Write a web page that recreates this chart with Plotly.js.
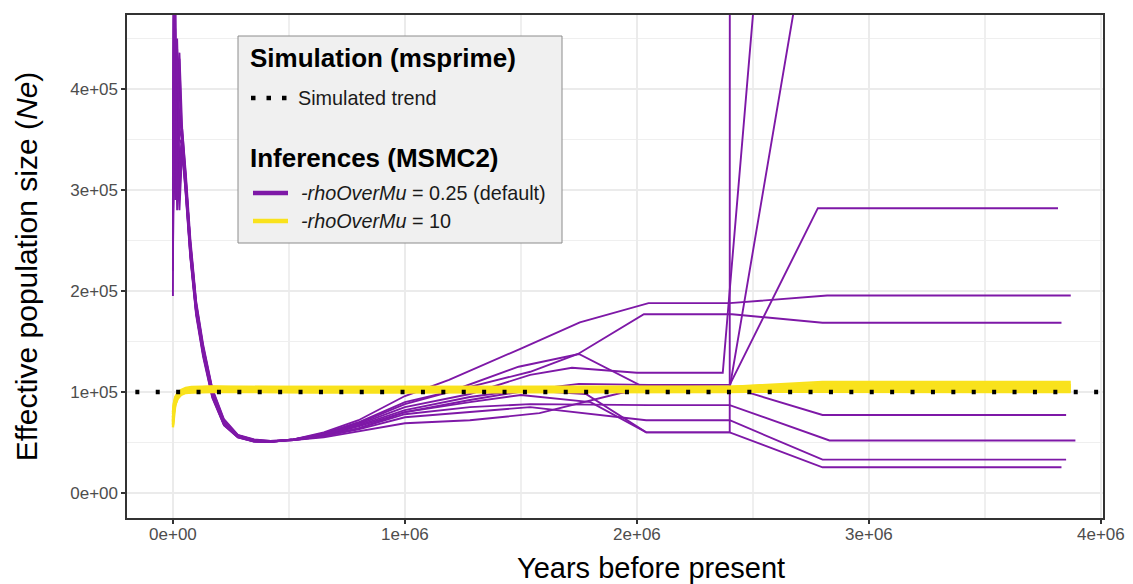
<!DOCTYPE html>
<html>
<head>
<meta charset="utf-8">
<script src="https://cdn.plot.ly/plotly-3.0.1.min.js"></script>
<style>
html,body{margin:0;padding:0;background:#fff;}
#chart{width:1133px;height:584px;}
</style>
</head>
<body>
<div id="chart"></div>
<script>
// ---------------- DATA ----------------
// Axis ticks
const xTickVals = [0, 1e6, 2e6, 3e6, 4e6];
const xTickText = ['0e+00', '1e+06', '2e+06', '3e+06', '4e+06'];
const xMinorVals = [-5e5, 5e5, 1.5e6, 2.5e6, 3.5e6];
const yTickVals = [0, 1e5, 2e5, 3e5, 4e5];
const yTickText = ['0e+00', '1e+05', '2e+05', '3e+05', '4e+05'];
const yMinorVals = [5e4, 1.5e5, 2.5e5, 3.5e5, 4.5e5];

// Titles and legend labels
const xTitle = 'Years before present';
const yTitle = 'Effective population size (<i>Ne</i>)';
const legendSimTitle = 'Simulation (msprime)';
const legendSimLabel = 'Simulated trend';
const legendInfTitle = 'Inferences (MSMC2)';
const legendInfLabels = ['<i>-rhoOverMu</i> = 0.25 (default)', '<i>-rhoOverMu</i> = 10'];

// Simulated trend (msprime): constant Ne
const simTime = [-2.5e5, 4.2e6];
const simNe = [1e5, 1e5];

// MSMC2 inferences, -rhoOverMu = 0.25 (default): 10 replicates
// shared early time grid (years), then replicate-specific later points
const earlyTime = [0, 4e3, 1e4, 1.8e4, 2.8e4, 4e4, 5.5e4, 7.5e4, 1.0e5, 1.3e5, 1.7e5, 2.2e5, 2.8e5, 3.5e5, 4.2e5, 5.2e5, 6.5e5, 8.0e5];

const rho025_rep1_earlyNe = [240e3, 490e3, 300e3, 390e3, 330e3, 350e3, 310e3, 248e3, 188e3, 145e3, 102e3, 72e3, 57e3, 52.5e3, 51e3, 53e3, 57e3, 66e3];
const rho025_rep1_lateTime = [1.0e6, 1.28e6, 1.54e6, 1.75e6, 2.05e6, 2.4e6, 2.78e6, 3.815e6];
const rho025_rep1_lateNe = [80e3, 92e3, 102e3, 108e3, 107e3, 107e3, 282e3, 282e3];

const rho025_rep2_earlyNe = [195e3, 520e3, 410e3, 280e3, 430e3, 340e3, 296e3, 233e3, 176e3, 135e3, 94e3, 67e3, 55e3, 51e3, 50.5e3, 53e3, 60e3, 72e3];
const rho025_rep2_lateTime = [1.0e6, 1.19e6, 1.5e6, 1.754e6, 2.05e6, 2.4e6, 2.82e6, 3.87e6];
const rho025_rep2_lateNe = [96e3, 112e3, 143e3, 169e3, 188e3, 188e3, 195.5e3, 195.5e3];

const rho025_rep3_earlyNe = [270e3, 320e3, 460e3, 340e3, 290e3, 360e3, 314e3, 245e3, 185e3, 143e3, 100e3, 71e3, 57e3, 52e3, 51e3, 53e3, 59e3, 70e3];
const rho025_rep3_lateTime = [1.0e6, 1.28e6, 1.54e6, 1.746e6, 2.03e6, 2.41e6, 2.8e6, 3.83e6];
const rho025_rep3_lateNe = [90e3, 105e3, 120e3, 137.6e3, 177e3, 177e3, 168.6e3, 168.6e3];

const rho025_rep4_earlyNe = [300e3, 550e3, 360e3, 420e3, 310e3, 345e3, 300e3, 236e3, 179e3, 138e3, 96e3, 68e3, 55.5e3, 51e3, 50.5e3, 53e3, 58e3, 69e3];
const rho025_rep4_lateTime = [1.0e6, 1.19e6, 1.49e6, 1.75e6, 2.01e6, 2.4e6, 2.8e6, 3.85e6];
const rho025_rep4_lateNe = [88e3, 100e3, 125e3, 137.6e3, 107e3, 105e3, 77.2e3, 77.2e3];

const rho025_rep5_earlyNe = [220e3, 440e3, 500e3, 300e3, 380e3, 350e3, 307e3, 243e3, 184e3, 142e3, 99e3, 70e3, 56e3, 52e3, 51e3, 52.5e3, 57e3, 64e3];
const rho025_rep5_lateTime = [1.0e6, 1.28e6, 1.54e6, 2.05e6, 2.4e6, 2.83e6, 3.89e6];
const rho025_rep5_lateNe = [78e3, 85e3, 88e3, 87e3, 87e3, 52e3, 52e3];

const rho025_rep6_earlyNe = [260e3, 380e3, 290e3, 400e3, 436e3, 360e3, 318e3, 252e3, 190e3, 147e3, 103e3, 73e3, 57.5e3, 53e3, 51.5e3, 52.5e3, 56e3, 63e3];
const rho025_rep6_lateTime = [1.0e6, 1.28e6, 1.54e6, 2.04e6, 2.4e6, 2.8e6, 3.85e6];
const rho025_rep6_lateNe = [75e3, 80e3, 85e3, 72e3, 72e3, 33e3, 33e3];

const rho025_rep7_earlyNe = [310e3, 470e3, 420e3, 330e3, 280e3, 340e3, 298e3, 235e3, 178e3, 137e3, 95e3, 67e3, 55e3, 51e3, 50.5e3, 53e3, 58e3, 67e3];
const rho025_rep7_lateTime = [1.0e6, 1.28e6, 1.5e6, 1.78e6, 2.04e6, 2.4e6, 2.8e6, 3.83e6];
const rho025_rep7_lateNe = [82e3, 95e3, 102e3, 98e3, 60e3, 60e3, 25.4e3, 25.4e3];

const rho025_rep8_earlyNe = [250e3, 530e3, 330e3, 450e3, 360e3, 350e3, 305e3, 241e3, 183e3, 141e3, 98e3, 69e3, 56e3, 51.5e3, 51e3, 53e3, 58e3, 68e3];
const rho025_rep8_lateTime = [1.0e6, 1.28e6, 1.54e6, 1.72e6, 2.0e6, 2.37e6, 2.8e6, 3.85e6];
const rho025_rep8_lateNe = [85e3, 98e3, 117e3, 124e3, 119e3, 119e3, 1290e3, 1290e3];

const rho025_rep9_earlyNe = [290e3, 410e3, 480e3, 290e3, 320e3, 355e3, 312e3, 247e3, 187e3, 144e3, 101e3, 71e3, 57e3, 52.5e3, 51.5e3, 52.5e3, 55e3, 61e3];
const rho025_rep9_lateTime = [1.0e6, 1.28e6, 1.58e6, 1.93e6, 2.05e6, 2.4e6, 2.8e6, 3.85e6];
const rho025_rep9_lateNe = [69e3, 72e3, 79e3, 99e3, 103e3, 104e3, 645e3, 645e3];

const rho025_rep10_earlyNe = [230e3, 360e3, 390e3, 440e3, 350e3, 345e3, 302e3, 238e3, 180e3, 139e3, 97e3, 68e3, 55.5e3, 51.5e3, 51e3, 52.5e3, 56e3, 64e3];
const rho025_rep10_lateTime = [1.0e6, 1.28e6, 1.5e6, 1.8e6, 2.04e6, 2.4e6, 2.405e6, 3.85e6];
const rho025_rep10_lateNe = [80e3, 90e3, 97e3, 90e3, 60e3, 60e3, 6000e3, 6000e3];

// MSMC2 inferences, -rhoOverMu = 10: 10 replicates on a shared time grid
const rho10Time = [0, 4e3, 1e4, 2e4, 3.5e4, 5.5e4, 8e4, 1.2e5, 1.7e5, 2.5e5, 4e5, 6e5, 9e5, 1.3e6, 1.8e6, 2.4e6, 2.8e6, 3.87e6];
const rho10_rep1_Ne  = [68e3, 80e3, 88e3, 95e3, 99e3, 102e3, 103.5e3, 104e3, 104e3, 104e3, 103.5e3, 103.5e3, 103.5e3, 104e3, 104e3, 104e3, 106e3, 106e3];
const rho10_rep2_Ne  = [72e3, 84e3, 91e3, 97e3, 100.5e3, 103e3, 104.5e3, 105e3, 105e3, 105e3, 105e3, 104.5e3, 104.5e3, 104.5e3, 105e3, 105e3, 108e3, 108e3];
const rho10_rep3_Ne  = [78e3, 88e3, 94e3, 98e3, 100.5e3, 102e3, 103e3, 103e3, 103e3, 103e3, 103e3, 103e3, 102.5e3, 102.5e3, 103e3, 103e3, 103e3, 103e3];
const rho10_rep4_Ne  = [65e3, 78e3, 87e3, 94e3, 97.5e3, 99.5e3, 100e3, 100.5e3, 100.5e3, 100.5e3, 100e3, 100e3, 100e3, 100e3, 100.5e3, 100.5e3, 100e3, 100e3];
const rho10_rep5_Ne  = [75e3, 86e3, 92e3, 97e3, 100.5e3, 103e3, 104.5e3, 105e3, 105e3, 105e3, 104.5e3, 104.5e3, 104.5e3, 105e3, 105e3, 105e3, 110e3, 110e3];
const rho10_rep6_Ne  = [70e3, 82e3, 89e3, 96e3, 99e3, 101e3, 102e3, 102e3, 102e3, 102e3, 102e3, 102e3, 101.5e3, 101.5e3, 102e3, 102.5e3, 104e3, 104e3];
const rho10_rep7_Ne  = [80e3, 89e3, 95e3, 99e3, 102e3, 104e3, 105e3, 105.5e3, 105.5e3, 105e3, 105e3, 105e3, 104.5e3, 104.5e3, 105e3, 105e3, 107e3, 107e3];
const rho10_rep8_Ne  = [67e3, 79e3, 87e3, 93e3, 97e3, 99e3, 99.5e3, 100e3, 100e3, 100e3, 99.5e3, 99.5e3, 99.5e3, 99.5e3, 100e3, 100e3, 101e3, 101e3];
const rho10_rep9_Ne  = [74e3, 85e3, 92e3, 97e3, 100e3, 102.5e3, 103.5e3, 104e3, 104e3, 104e3, 103.5e3, 103.5e3, 103.5e3, 104e3, 104e3, 104e3, 105e3, 105e3];
const rho10_rep10_Ne = [71e3, 83e3, 90e3, 96e3, 99e3, 100.5e3, 101e3, 101.5e3, 101.5e3, 101.5e3, 101e3, 101e3, 101e3, 101e3, 101.5e3, 101.5e3, 102e3, 102e3];

// ---------------- STYLE ----------------
const PURPLE = '#7E18A7';
const YELLOW = '#F9E21D';
const FONT = 'Liberation Sans, Arial, Helvetica, sans-serif';

// plot-area geometry (px) used to place the legend box and x title
const PL = 127, PR = 1103, PT = 15, PB = 518;
function px(x) { return (x - PL) / (PR - PL); }
function py(y) { return (PB - y) / (PB - PT); }

// ---------------- TRACES ----------------
const rho025Reps = [
  [rho025_rep1_earlyNe, rho025_rep1_lateTime, rho025_rep1_lateNe],
  [rho025_rep2_earlyNe, rho025_rep2_lateTime, rho025_rep2_lateNe],
  [rho025_rep3_earlyNe, rho025_rep3_lateTime, rho025_rep3_lateNe],
  [rho025_rep4_earlyNe, rho025_rep4_lateTime, rho025_rep4_lateNe],
  [rho025_rep5_earlyNe, rho025_rep5_lateTime, rho025_rep5_lateNe],
  [rho025_rep6_earlyNe, rho025_rep6_lateTime, rho025_rep6_lateNe],
  [rho025_rep7_earlyNe, rho025_rep7_lateTime, rho025_rep7_lateNe],
  [rho025_rep8_earlyNe, rho025_rep8_lateTime, rho025_rep8_lateNe],
  [rho025_rep9_earlyNe, rho025_rep9_lateTime, rho025_rep9_lateNe],
  [rho025_rep10_earlyNe, rho025_rep10_lateTime, rho025_rep10_lateNe]
];
const rho10Reps = [rho10_rep1_Ne, rho10_rep2_Ne, rho10_rep3_Ne, rho10_rep4_Ne, rho10_rep5_Ne,
                   rho10_rep6_Ne, rho10_rep7_Ne, rho10_rep8_Ne, rho10_rep9_Ne, rho10_rep10_Ne];

const traces = [];
rho025Reps.forEach(function (r, i) {
  traces.push({
    type: 'scatter', mode: 'lines',
    x: earlyTime.concat(r[1]), y: r[0].concat(r[2]),
    line: {color: PURPLE, width: 1.9},
    legendgroup: 'rho025', showlegend: false, hoverinfo: 'skip',
    name: '-rhoOverMu = 0.25 (default), rep ' + (i + 1)
  });
});
rho10Reps.forEach(function (ne, i) {
  traces.push({
    type: 'scatter', mode: 'lines',
    x: rho10Time, y: ne,
    line: {color: YELLOW, width: 2.4},
    legendgroup: 'rho10', showlegend: false, hoverinfo: 'skip',
    name: '-rhoOverMu = 10, rep ' + (i + 1)
  });
});
traces.push({
  type: 'scatter', mode: 'lines',
  x: simTime, y: simNe,
  line: {color: '#000000', width: 4.5, dash: '4px,16.4px'},
  showlegend: false, hoverinfo: 'skip', name: legendSimLabel
});

// ---------------- LEGEND (drawn box, keys and labels) ----------------
const shapes = [
  {type: 'rect', xref: 'paper', yref: 'paper', layer: 'above',
   x0: px(238), x1: px(562), y0: py(243), y1: py(36),
   fillcolor: '#F0F0F0', line: {color: '#8C8C8C', width: 1}},
  {type: 'line', xref: 'paper', yref: 'paper', layer: 'above',
   x0: px(251), x1: px(288), y0: py(98), y1: py(98),
   line: {color: '#000000', width: 4.5, dash: '4.5px,11px'}},
  {type: 'line', xref: 'paper', yref: 'paper', layer: 'above',
   x0: px(253), x1: px(288), y0: py(193), y1: py(193),
   line: {color: PURPLE, width: 4.5}},
  {type: 'line', xref: 'paper', yref: 'paper', layer: 'above',
   x0: px(253), x1: px(288), y0: py(221), y1: py(221),
   line: {color: YELLOW, width: 4.5}}
];
function textAt(text, x, y, size, bold, anchor, color) {
  return {xref: 'paper', yref: 'paper', x: px(x), y: py(y), xanchor: anchor || 'left', yanchor: 'middle',
          text: bold ? '<b>' + text + '</b>' : text, showarrow: false, borderpad: 0,
          font: {family: FONT, size: size, color: color || (bold ? '#000000' : '#1A1A1A')}};
}
const annotations = [
  textAt(legendSimTitle, 249, 58, 26, true),
  textAt(legendSimLabel, 297, 98, 19.8, false),
  textAt(legendInfTitle, 249, 158, 26, true),
  textAt(legendInfLabels[0], 300, 193, 19.8, false),
  textAt(legendInfLabels[1], 300, 221, 19.8, false),
  // x-axis title (sits slightly right of the panel centre in the original)
  textAt(xTitle, 651, 568, 29, false, 'center', '#000000')
];

const layout = {
  width: 1133, height: 584,
  margin: {l: 127, r: 30, t: 15, b: 66},
  paper_bgcolor: '#ffffff', plot_bgcolor: '#ffffff',
  font: {family: FONT, color: '#000'},
  showlegend: false,
  shapes: shapes,
  annotations: annotations,
  xaxis: {
    range: [-1.98e5, 4.009e6],
    tickmode: 'array', tickvals: xTickVals, ticktext: xTickText,
    ticks: 'outside', ticklen: 4, tickwidth: 1.3, tickcolor: '#333333',
    ticklabelstandoff: -4,
    showline: true, linecolor: '#333333', linewidth: 1.6, mirror: true,
    showgrid: true, gridcolor: '#EBEBEB', gridwidth: 2, zeroline: false,
    tickfont: {size: 17, color: '#4D4D4D'},
    minor: {tickmode: 'array', tickvals: xMinorVals, showgrid: true, gridcolor: '#EFEFEF', gridwidth: 1.4, ticks: ''}
  },
  yaxis: {
    range: [-0.248e5, 4.733e5],
    tickmode: 'array', tickvals: yTickVals, ticktext: yTickText,
    ticks: 'outside', ticklen: 4, tickwidth: 1.3, tickcolor: '#333333',
    showline: true, linecolor: '#333333', linewidth: 1.6, mirror: true,
    showgrid: true, gridcolor: '#EBEBEB', gridwidth: 2, zeroline: false,
    tickfont: {size: 17, color: '#4D4D4D'},
    minor: {tickmode: 'array', tickvals: yMinorVals, showgrid: true, gridcolor: '#EFEFEF', gridwidth: 1.4, ticks: ''},
    title: {text: yTitle, font: {size: 30, color: '#000'}, standoff: 24}
  }
};

Plotly.newPlot('chart', traces, layout, {displayModeBar: false, staticPlot: true});
</script>
</body>
</html>
